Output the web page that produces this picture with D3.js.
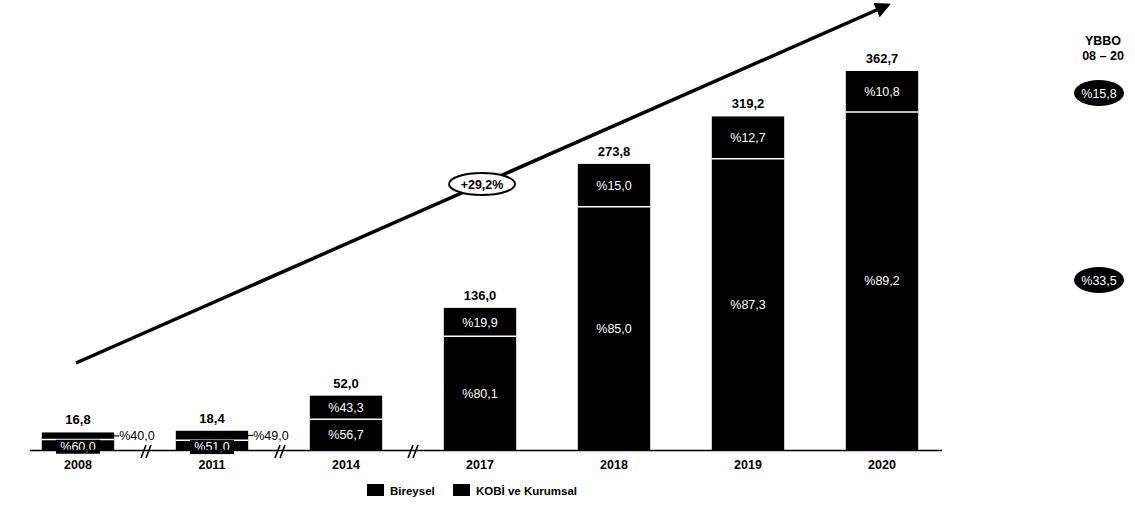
<!DOCTYPE html>
<html>
<head>
<meta charset="utf-8">
<script src="https://cdn.jsdelivr.net/npm/d3@7"></script>
<style>
  body { margin: 0; background: #fff; }
  text { font-family: Arial, "Liberation Sans", sans-serif; }
</style>
</head>
<body>
<svg id="chart" width="1135" height="510"></svg>
<script>
// chart data
var years = ["2008", "2011", "2014", "2017", "2018", "2019", "2020"];
var totals = [16.8, 18.4, 52.0, 136.0, 273.8, 319.2, 362.7];
var bireysel = [60.0, 51.0, 56.7, 80.1, 85.0, 87.3, 89.2];
var kobi = [40.0, 49.0, 43.3, 19.9, 15.0, 12.7, 10.8];
var breakAfter = ["2008", "2011", "2014"];
var seriesNames = ["Bireysel", "KOBİ ve Kurumsal"];
var growthLabel = "+29,2%";
var ybboTitle = ["YBBO", "08 – 20"];
var ybboValues = ["%15,8", "%33,5"];

var fmt = function (v) { return v.toFixed(1).replace(".", ","); };

var svg = d3.select("#chart");
var baseY = 450;

var x = d3.scaleBand()
  .domain(years)
  .range([11, 949])
  .paddingInner(0.46)
  .paddingOuter(0.23);

var y = d3.scaleLinear()
  .domain([0, 362.7])
  .range([baseY, 71]);

var rows = years.map(function (yr, i) {
  var bottom = totals[i] * bireysel[i] / 100;
  return { year: yr, total: totals[i], b: bireysel[i], k: kobi[i], bottom: bottom };
});

// growth arrow
var defs = svg.append("defs");
defs.append("marker")
  .attr("id", "head")
  .attr("viewBox", "0 0 10 10")
  .attr("refX", 8).attr("refY", 5)
  .attr("markerWidth", 4.5).attr("markerHeight", 4.5)
  .attr("orient", "auto")
  .append("path")
  .attr("d", "M0,0 L10,5 L0,10 z")
  .attr("fill", "#000");

var ax0 = x("2008") + x.bandwidth() / 2 - 2, ay0 = 363;
var ax1 = x("2020") + x.bandwidth() / 2 + 6, ay1 = 5;
svg.append("line")
  .attr("x1", ax0).attr("y1", ay0)
  .attr("x2", ax1).attr("y2", ay1)
  .attr("stroke", "#000")
  .attr("stroke-width", 3.5)
  .attr("marker-end", "url(#head)");

var ex = x("2017") + x.bandwidth() / 2 + 2;
var ey = ay0 + (ay1 - ay0) * (ex - ax0) / (ax1 - ax0);
svg.append("ellipse")
  .attr("cx", ex).attr("cy", ey)
  .attr("rx", 33).attr("ry", 11)
  .attr("fill", "#fff").attr("stroke", "#000").attr("stroke-width", 2);
svg.append("text")
  .attr("x", ex).attr("y", ey + 4.5)
  .attr("text-anchor", "middle")
  .attr("font-size", 12.5).attr("font-weight", "bold")
  .text(growthLabel);

// bars
var g = svg.append("g");
var bars = g.selectAll("g.bar").data(rows).enter().append("g").attr("class", "bar");

bars.append("rect")
  .attr("x", function (d) { return x(d.year); })
  .attr("y", function (d) { return y(d.total); })
  .attr("width", x.bandwidth())
  .attr("height", function (d) { return baseY - y(d.total); })
  .attr("fill", "#000");

bars.append("line")
  .attr("x1", function (d) { return x(d.year); })
  .attr("x2", function (d) { return x(d.year) + x.bandwidth(); })
  .attr("y1", function (d) { return y(d.bottom); })
  .attr("y2", function (d) { return y(d.bottom); })
  .attr("stroke", "#fff")
  .attr("stroke-width", 1.5);

bars.append("text")
  .attr("x", function (d) { return x(d.year) + x.bandwidth() / 2; })
  .attr("y", function (d) { return y(d.total) - 8; })
  .attr("text-anchor", "middle")
  .attr("font-size", 13).attr("font-weight", "bold")
  .text(function (d) { return fmt(d.total); });

// segment labels
bars.each(function (d) {
  var sel = d3.select(this);
  var cx = x(d.year) + x.bandwidth() / 2;
  var small = (baseY - y(d.total)) < 30;
  if (small) {
    var midB = (baseY + y(d.bottom)) / 2 + 1;
    sel.append("rect")
      .attr("x", cx - 22).attr("y", midB - 6)
      .attr("width", 44).attr("height", 14)
      .attr("fill", "#000");
    sel.append("text")
      .attr("x", cx).attr("y", midB + 5)
      .attr("text-anchor", "middle")
      .attr("font-size", 12.5).attr("fill", "#fff")
      .text("%" + fmt(d.b));
    var midK = (y(d.total) + y(d.bottom)) / 2;
    var rx = x(d.year) + x.bandwidth();
    sel.append("line")
      .attr("x1", rx).attr("x2", rx + 5)
      .attr("y1", midK).attr("y2", midK)
      .attr("stroke", "#000").attr("stroke-width", 1.2);
    sel.append("text")
      .attr("x", rx + 5).attr("y", midK + 4.5)
      .attr("font-size", 12.5)
      .text("%" + fmt(d.k));
  } else {
    sel.append("text")
      .attr("x", cx).attr("y", (baseY + y(d.bottom)) / 2 + 4.5)
      .attr("text-anchor", "middle")
      .attr("font-size", 12.5).attr("fill", "#fff")
      .text("%" + fmt(d.b));
    sel.append("text")
      .attr("x", cx).attr("y", (y(d.total) + y(d.bottom)) / 2 + 4.5)
      .attr("text-anchor", "middle")
      .attr("font-size", 12.5).attr("fill", "#fff")
      .text("%" + fmt(d.k));
  }
});

// baseline and year labels
svg.append("line")
  .attr("x1", 30).attr("x2", 942)
  .attr("y1", baseY + 0.5).attr("y2", baseY + 0.5)
  .attr("stroke", "#000").attr("stroke-width", 1.5);

var xAxis = d3.axisBottom(x).tickSize(0).tickPadding(10);
var axisG = svg.append("g").attr("transform", "translate(0," + baseY + ")").call(xAxis);
axisG.select(".domain").remove();
axisG.selectAll("text")
  .attr("font-size", 12.5).attr("font-weight", "bold")
  .attr("font-family", "Arial, 'Liberation Sans', sans-serif")
  .attr("fill", "#000");

// axis break marks
breakAfter.forEach(function (yr) {
  var i = years.indexOf(yr);
  var bx = (x(yr) + x.bandwidth() + x(years[i + 1])) / 2 + (i == 2 ? 0 : 1);
  [-2.5, 2.5].forEach(function (off) {
    svg.append("line")
      .attr("x1", bx + off - 2.5).attr("y1", baseY + 8)
      .attr("x2", bx + off + 2.5).attr("y2", baseY - 5)
      .attr("stroke", "#000").attr("stroke-width", 1.6);
  });
});

// legend
var legend = svg.append("g").attr("transform", "translate(367,484)");
var lx = [0, 86];
seriesNames.forEach(function (name, i) {
  legend.append("rect")
    .attr("x", lx[i]).attr("y", 0)
    .attr("width", 17).attr("height", 12)
    .attr("fill", "#000");
  legend.append("text")
    .attr("x", lx[i] + 23).attr("y", 10.5)
    .attr("font-size", 11.5).attr("font-weight", "bold")
    .text(name);
});

// YBBO column
var yb = svg.append("g");
ybboTitle.forEach(function (t, i) {
  yb.append("text")
    .attr("x", 1103).attr("y", 45 + i * 15)
    .attr("text-anchor", "middle")
    .attr("font-size", 12.5).attr("font-weight", "bold")
    .text(t);
});
var ybY = [93, 280];
ybboValues.forEach(function (v, i) {
  yb.append("ellipse")
    .attr("cx", 1099).attr("cy", ybY[i])
    .attr("rx", 25).attr("ry", 13)
    .attr("fill", "#000");
  yb.append("text")
    .attr("x", 1099).attr("y", ybY[i] + 4.5)
    .attr("text-anchor", "middle")
    .attr("font-size", 12.5).attr("fill", "#fff")
    .text(v);
});
</script>
</body>
</html>
